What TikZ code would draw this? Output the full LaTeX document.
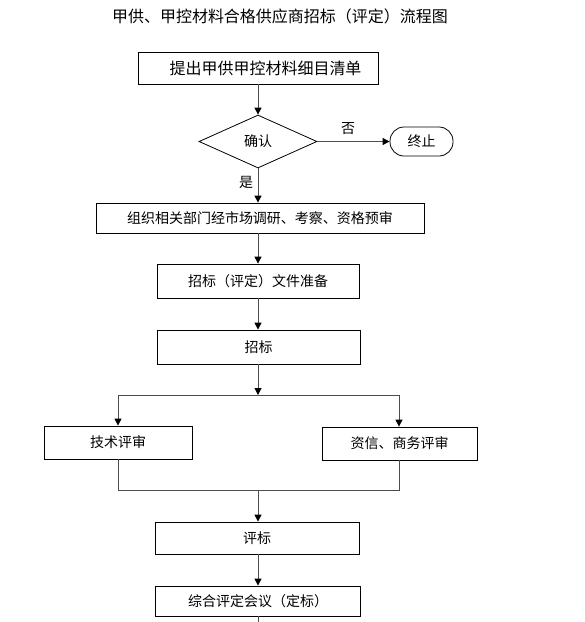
\documentclass[tikz,border=0pt]{standalone}
\usepackage{fontspec}
\setmainfont{Noto Sans CJK SC}
\usetikzlibrary{shapes.geometric,arrows.meta}
\begin{document}
\begin{tikzpicture}[x=1pt,y=-1pt,
  txt/.style={font=\fontsize{14}{16}\selectfont},
  box/.style={draw=black,line width=0.8pt,minimum width=#1,minimum height=32pt,inner sep=0pt,txt},
  box/.default=200pt,
  conn/.style={draw=black!70,line width=1pt},
  arr/.style={conn,-{Triangle[length=7pt,width=7pt,color=black]}}]
\useasboundingbox (0,0) rectangle (585,622);
\node[font=\fontsize{16}{18}\selectfont] (title) at (280,16) {甲供、甲控材料合格供应商招标（评定）流程图};
\node[box=240pt,font=\fontsize{16}{18}\selectfont] (n1) at (258,68) {\hspace*{15pt}提出甲供甲控材料细目清单};
\node[draw=black,line width=0.8pt,diamond,minimum width=118pt,minimum height=53pt,inner sep=0pt,txt] (dia) at (258,141.5) {确认};
\node[draw=black,line width=0.8pt,rounded corners=14pt,minimum width=63pt,minimum height=29pt,inner sep=0pt,txt] (stop) at (421.5,141.5) {终止};
\node[box=328pt,minimum height=30pt] (n3) at (260,218) {组织相关部门经市场调研、考察、资格预审};
\node[box=202pt,minimum height=34pt] (n4) at (258,281) {招标（评定）文件准备};
\node[box=203pt,minimum height=34pt] (n5) at (258.5,347) {招标};
\node[box=148pt,minimum height=33pt] (t1) at (118,442.5) {技术评审};
\node[box=155pt,minimum height=33pt] (t2) at (399.5,443.5) {资信、商务评审};
\node[box=204pt,minimum height=32pt] (n6) at (257,538) {评标};
\node[box=205pt,minimum height=30pt] (n7) at (258,601) {综合评定会议（定标）};
\node[txt] (no) at (348,129) {否};
\node[txt] (yes) at (246,182) {是};
\coordinate (split) at (258,395);
\coordinate (sl) at (118,395);
\coordinate (sr) at (399,395);
\coordinate (jl) at (118,490);
\coordinate (jr) at (399,490);
\coordinate (jm) at (258,490);
\coordinate (end) at (258,622);
\draw[arr] (n1.south) -- (dia.north);
\draw[arr] (dia.east) -- (dia.east -| stop.west);
\draw[arr] (dia.south) -- (dia.south |- n3.north);
\draw[arr] (dia.south |- n3.south) -- (dia.south |- n4.north);
\draw[arr] (n4.south) -- (n4.south |- n5.north);
\draw[arr] (n4.south |- n5.south) -- (split);
\draw[conn] (sl) -- (sr);
\draw[arr] (sl) -- (sl |- t1.north);
\draw[arr] (sr) -- (sr |- t2.north);
\draw[conn] (sl |- t1.south) -- (jl) -- (jr) -- (sr |- t2.south);
\draw[arr] (jm) -- (jm |- n6.north);
\draw[arr] (jm |- n6.south) -- (jm |- n7.north);
\draw[conn] (jm |- n7.south) -- (end);
\end{tikzpicture}
\end{document}
